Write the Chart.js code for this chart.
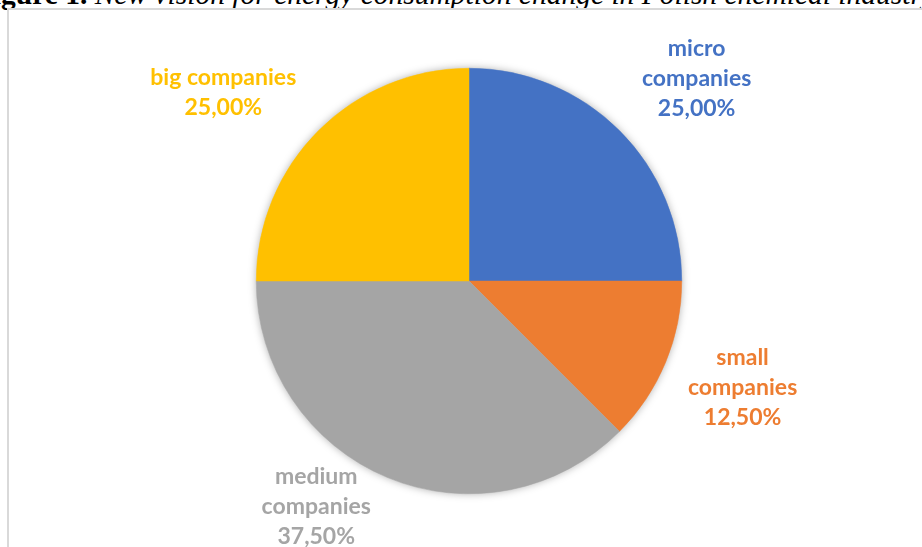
<!DOCTYPE html>
<html>
<head>
<meta charset="utf-8">
<script src="https://cdn.jsdelivr.net/npm/chart.js@4/dist/chart.umd.min.js"></script>
<style>
  html, body { margin: 0; padding: 0; background: #fff; overflow: hidden; }
  body { width: 922px; height: 547px; position: relative; }
  #caption {
    position: absolute; left: -30px; top: -23px; white-space: nowrap;
    font-family: "Liberation Serif", "DejaVu Serif", serif; font-size: 29.5px;
    color: #000; font-style: italic; line-height: 34px;
  }
  #caption b { font-style: normal; }
  #frame {
    position: absolute; left: 7px; top: 8px; width: 2000px; height: 2000px;
    border-left: 2px solid #d9d9d9; border-top: 2px solid #d9d9d9;
  }
  #wrap { position: absolute; left: 0; top: 0; width: 922px; height: 547px; }
</style>
</head>
<body>
<div id="caption"><b><span id="capHead">Fi</span>gure 1.</b> New vision for energy consumption change in Polish chemical industry</div>
<div id="frame"></div>
<div id="wrap"><canvas id="chart"></canvas></div>
<script>
// Company-size shares
const categories = ['micro companies', 'small companies', 'medium companies', 'big companies'];
const labelLines = [['micro', 'companies'], ['small', 'companies'], ['medium', 'companies'], ['big companies']];
const shares = [25.00, 12.50, 37.50, 25.00];
const colors = ['#4472C4', '#ED7D31', '#A5A5A5', '#FFC000'];

// label box centres, as offsets from the pie centre in radius units
const labelOffsets = [[1.07, -0.953], [1.286, 0.502], [-0.718, 1.061], [-1.155, -0.885]];

const fmt = v => v.toFixed(2).replace('.', ',') + '%';

// caption starts just past its first two letters
const head = document.getElementById('capHead');
document.getElementById('caption').style.left = (-head.getBoundingClientRect().width + 1) + 'px';

const pieShadow = {
  id: 'pieShadow',
  beforeDatasetsDraw(chart) {
    const arc = chart.getDatasetMeta(0).data[0];
    if (!arc) return;
    const ctx = chart.ctx;
    ctx.save();
    ctx.shadowColor = 'rgba(0,0,0,0.35)';
    ctx.shadowBlur = 9;
    ctx.fillStyle = '#ffffff';
    ctx.beginPath();
    ctx.arc(arc.x, arc.y, arc.outerRadius - 0.5, 0, Math.PI * 2);
    ctx.fill();
    ctx.restore();
  }
};

const outsideLabels = {
  id: 'outsideLabels',
  afterDatasetsDraw(chart) {
    const meta = chart.getDatasetMeta(0);
    const ctx = chart.ctx;
    ctx.save();
    ctx.font = 'bold 23px Lato, "Open Sans", sans-serif';
    ctx.textAlign = 'center';
    ctx.textBaseline = 'middle';
    meta.data.forEach((arc, i) => {
      const r = arc.outerRadius;
      const lines = labelLines[i].concat([fmt(shares[i])]);
      const lh = 30;
      const cx = arc.x + labelOffsets[i][0] * r;
      const cy = arc.y + labelOffsets[i][1] * r;
      ctx.fillStyle = colors[i];
      lines.forEach((t, k) => {
        ctx.fillText(t, cx, cy + (k - (lines.length - 1) / 2) * lh);
      });
    });
    ctx.restore();
  }
};

new Chart(document.getElementById('chart'), {
  type: 'pie',
  data: {
    labels: categories,
    datasets: [{
      data: shares,
      backgroundColor: colors,
      borderColor: colors,
      borderWidth: 0.5,
      hoverOffset: 0
    }]
  },
  options: {
    responsive: true,
    maintainAspectRatio: false,
    animation: false,
    layout: { padding: { left: 16, right: 0, top: 68, bottom: 53 } },
    plugins: { legend: { display: false }, tooltip: { enabled: false } }
  },
  plugins: [pieShadow, outsideLabels]
});
</script>
</body>
</html>
